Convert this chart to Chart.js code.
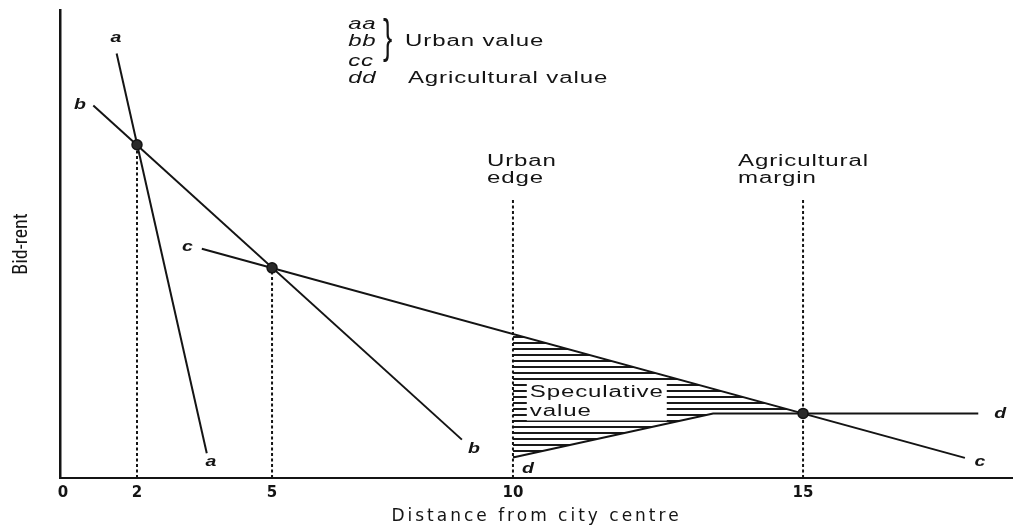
<!DOCTYPE html>
<html>
<head>
<meta charset="utf-8">
<script src="https://cdn.jsdelivr.net/npm/chart.js@4/dist/chart.umd.min.js"></script>
<style>
  html, body { margin: 0; padding: 0; background: #ffffff; }
  canvas { display: block; }
</style>
</head>
<body>
<canvas id="chart" width="1013" height="529"></canvas>
<script>
// ---------------- data (distance from city centre, bid-rent on 0-100 scale) ----------------
const xTickValues = [0, 2, 5, 10, 15];
const xTickLabels = ['0', '2', '5', '10', '15'];

const aaX = [1.45, 3.55];          const aaY = [90.7, 5.3];
const bbX = [0.82, 8.94];          const bbY = [79.6, 8.2];
const ccX = [3.44, 17.79];         const ccY = [49.0, 4.3];
const ddX = [10, 13.45, 18.02];    const ddY = [4.4, 13.8, 13.8];

const meetX = [2, 5, 15];          const meetY = [71.2, 44.9, 13.8];      // intersections
const guideX = [2, 5, 10, 15];     const guideTop = [71.2, 44.9, 59.4, 59.4]; // dotted verticals
const specX = [10, 15];            const specY = [30.8, 13.8];            // cc over the speculative span

const curveLabelText = ['a', 'a', 'b', 'b', 'c', 'c', 'd', 'd'];
const curveLabelX = [1.43, 3.64, 0.46, 9.19, 3.12, 18.05, 10.26, 18.40];
const curveLabelY = [94.0, 3.4, 79.7, 6.2, 49.3, 3.4, 1.9, 13.7];

const keyText = ['aa', 'bb', 'cc', 'dd'];
const keyY = [96.9, 93.2, 89.0, 85.3];
const keyX = 6.58;
const urbanValueText = 'Urban value';
const agriValueText = 'Agricultural value';

const edgeText = ['Urban', 'edge'];
const marginText = ['Agricultural', 'margin'];
const specText = ['Speculative', 'value'];

// ---------------- schematic (non-uniform) distance axis ----------------
const X_WARP = [[0, 0.0031], [2, 0.0808], [5, 0.2225], [10, 0.4753], [15, 0.7797]];
class WarpedScale extends Chart.LinearScale {
  _warp(v) {
    const w = X_WARP; let i = 0;
    while (i < w.length - 2 && v > w[i + 1][0]) i++;
    const [v0, f0] = w[i], [v1, f1] = w[i + 1];
    return f0 + (v - v0) * (f1 - f0) / (v1 - v0);
  }
  _unwarp(f) {
    const w = X_WARP; let i = 0;
    while (i < w.length - 2 && f > w[i + 1][1]) i++;
    const [v0, f0] = w[i], [v1, f1] = w[i + 1];
    return v0 + (f - f0) * (v1 - v0) / (f1 - f0);
  }
  getPixelForValue(value) { return this.getPixelForDecimal(this._warp(value)); }
  getValueForPixel(pixel) { return this._unwarp(this.getDecimalForPixel(pixel)); }
}
WarpedScale.id = 'warped';
WarpedScale.defaults = Chart.LinearScale.defaults;
Chart.register(WarpedScale);

// ---------------- styles ----------------
const ink = '#141414';
const textFont = '16px "Liberation Sans", Arial, sans-serif';
const keyFont = 'italic 16px "Liberation Sans", Arial, sans-serif';
const curveFont = 'italic bold 15px "Liberation Sans", Arial, sans-serif';
const STRETCH = 1.5;

const canvas = document.getElementById('chart');
const ctx0 = canvas.getContext('2d');
const hatchTile = document.createElement('canvas');
hatchTile.width = 8; hatchTile.height = 6;
const ht = hatchTile.getContext('2d');
ht.fillStyle = '#1a1a1a';
ht.fillRect(0, 0, 8, 2);
const hatch = ctx0.createPattern(hatchTile, 'repeat');

const pts = (xs, ys) => xs.map((x, i) => ({ x: x, y: ys[i] }));

const datasets = [
  { label: 'meet', data: pts(meetX, meetY), showLine: false, pointRadius: 5, pointHoverRadius: 5,
    pointBackgroundColor: '#2a2a2a', pointBorderColor: ink, pointBorderWidth: 1.5, order: 0 },
  { label: 'aa', data: pts(aaX, aaY), borderColor: ink, borderWidth: 2, pointRadius: 0, order: 1 },
  { label: 'bb', data: pts(bbX, bbY), borderColor: ink, borderWidth: 2, pointRadius: 0, order: 1 },
  { label: 'cc', data: pts(ccX, ccY), borderColor: ink, borderWidth: 2, pointRadius: 0, order: 1 },
  { label: 'dd', data: pts(ddX, ddY), borderColor: ink, borderWidth: 2, pointRadius: 0, order: 1 },
  { label: 'speculative', data: pts(specX, specY), borderWidth: 0, borderColor: 'rgba(0,0,0,0)',
    pointRadius: 0, fill: { target: 4 }, backgroundColor: hatch, order: 5 }
].concat(guideX.map((gx, i) => ({
  label: 'guide', data: [{ x: gx, y: 0 }, { x: gx, y: guideTop[i] }],
  borderColor: ink, borderWidth: 2, borderDash: [3, 2.5], pointRadius: 0, order: 3
})));

function drawText(ctx, text, x, y, font, align, sx, sp) {
  ctx.save();
  ctx.font = font;
  ctx.letterSpacing = sp || '0px';
  ctx.fillStyle = ink;
  ctx.textAlign = align;
  ctx.textBaseline = 'middle';
  ctx.translate(x, y);
  ctx.scale(sx, 1);
  ctx.fillText(text, 0, 0);
  ctx.restore();
}

// wide lettering for the distance-axis title (drawn before the datasets)
const spacingPlugin = {
  id: 'spacing',
  beforeDraw(chart) { chart.ctx.letterSpacing = '3px'; },
  beforeDatasetsDraw(chart) { chart.ctx.letterSpacing = '0px'; }
};

const annotationPlugin = {
  id: 'annotations',
  afterDraw(chart) {
    const { ctx } = chart;
    const xs = chart.scales.x, ys = chart.scales.y;
    const px = v => xs.getPixelForValue(v), py = v => ys.getPixelForValue(v);

    // curve end labels
    curveLabelText.forEach((t, i) => drawText(ctx, t, px(curveLabelX[i]), py(curveLabelY[i]), curveFont, 'center', 1.3));

    // key
    keyText.forEach((t, i) => drawText(ctx, t, px(keyX), py(keyY[i]), keyFont, 'left', STRETCH, '0.5px'));
    ctx.save();
    ctx.font = '46px "Liberation Sans", Arial, sans-serif';
    ctx.fillStyle = ink;
    ctx.textAlign = 'center';
    ctx.textBaseline = 'alphabetic';
    ctx.translate(px(7.40), py(93.5) + 0.26 * 46);
    ctx.scale(0.6, 1);
    ctx.fillText('}', 0, 0);
    ctx.restore();
    drawText(ctx, urbanValueText, px(7.76), py(keyY[1]), textFont, 'left', STRETCH, '0.6px');
    drawText(ctx, agriValueText, px(7.82), py(keyY[3]), textFont, 'left', STRETCH, '0.6px');

    // vertical line captions
    drawText(ctx, edgeText[0], px(9.46), py(67.7), textFont, 'left', STRETCH, '0.6px');
    drawText(ctx, edgeText[1], px(9.46), py(63.9), textFont, 'left', STRETCH, '0.6px');
    drawText(ctx, marginText[0], px(13.88), py(67.7), textFont, 'left', STRETCH, '0.6px');
    drawText(ctx, marginText[1], px(13.88), py(63.9), textFont, 'left', STRETCH, '0.6px');

    // speculative value box
    const sx = px(10.29), sy1 = py(18.3), sy2 = py(14.2);
    ctx.save();
    ctx.font = textFont;
    ctx.letterSpacing = '0.6px';
    const w = STRETCH * Math.max(...specText.map(t => ctx.measureText(t).width));
    ctx.fillStyle = '#ffffff';
    ctx.fillRect(sx - 3, sy1 - 10, w + 6, (sy2 - sy1) + 19);
    ctx.restore();
    drawText(ctx, specText[0], sx, sy1, textFont, 'left', STRETCH, '0.6px');
    drawText(ctx, specText[1], sx, sy2, textFont, 'left', STRETCH, '0.6px');
  }
};

new Chart(canvas, {
  type: 'line',
  data: { datasets: datasets },
  options: {
    responsive: false,
    animation: false,
    devicePixelRatio: 1,
    layout: { autoPadding: false, padding: { top: 10, right: 0, bottom: 0, left: 0 } },
    plugins: { legend: { display: false }, tooltip: { enabled: false } },
    elements: { line: { tension: 0 } },
    scales: {
      x: {
        type: 'warped',
        min: -0.1, max: 18.7,
        afterBuildTicks: (scale) => { scale.ticks = xTickValues.map(v => ({ value: v })); },
        afterFit: (scale) => { scale.height = 51; scale.paddingLeft = 0; scale.paddingRight = 0; },
        ticks: {
          padding: 6,
          z: 1,
          color: ink,
          font: { family: '"DejaVu Sans", "Liberation Sans", sans-serif', size: 15, weight: 'bold' },
          maxRotation: 0, autoSkip: false,
          callback: (value) => xTickLabels[xTickValues.indexOf(value)]
        },
        grid: { display: false, drawTicks: false },
        border: { display: true, color: ink, width: 2 },
        title: {
          display: true, text: 'Distance from city centre', color: ink,
          font: { family: '"DejaVu Sans", "Liberation Sans", sans-serif', size: 17 },
          padding: { top: 0, bottom: 2 }
        }
      },
      y: {
        min: 0, max: 100,
        afterFit: (scale) => { scale.width = 60; },
        ticks: { display: false },
        grid: { display: false, drawTicks: false, z: 1 },
        border: { display: true, color: ink, width: 2.5, z: 1 },
        title: {
          display: true, text: 'Bid-rent', color: ink,
          font: { family: '"Liberation Sans Narrow", "Roboto Condensed", "Liberation Sans", sans-serif', size: 20 },
          padding: { top: 10, bottom: 0 }
        }
      }
    }
  },
  plugins: [spacingPlugin, annotationPlugin]
});
</script>
</body>
</html>
